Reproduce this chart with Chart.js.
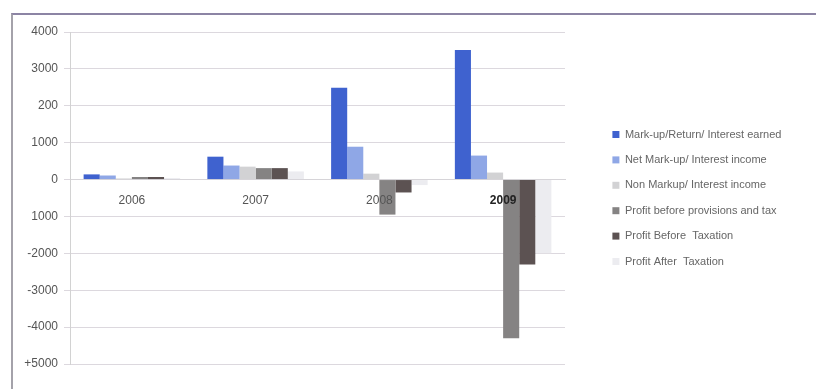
<!DOCTYPE html>
<html>
<head>
<meta charset="utf-8">
<script src="https://cdn.jsdelivr.net/npm/chart.js@4/dist/chart.umd.min.js"></script>
<style>
  html, body { margin: 0; padding: 0; background: #fff; }
  #wrap { position: relative; width: 816px; height: 389px; overflow: hidden; }
  #frame {
    position: absolute; left: 11px; top: 13px; right: -4px; bottom: -4px;
    border-left: 2px solid #a4a2aa;
    border-top: 2px solid #8c84a4;
    pointer-events: none;
  }
  #c { position: absolute; left: 0; top: 0; }
</style>
</head>
<body>
<div id="wrap">
  <div id="frame"></div>
  <canvas id="c" width="816" height="389"></canvas>
</div>
<script>
// categories
const years = ['2006', '2007', '2008', '2009'];

// series values
const markupEarned      = [140, 620, 2490, 3510];
const netMarkupIncome   = [110, 380, 890, 650];
const nonMarkupIncome   = [30, 350, 160, 190];
const profitBeforeProv  = [70, 310, -950, -4300];
const profitBeforeTax   = [70, 310, -350, -2300];
const profitAfterTax    = [40, 220, -150, -2000];

// tick labels exactly as printed on the original axis
const yTickValues = [4000, 3000, 2000, 1000, 0, -1000, -2000, -3000, -4000, -5000];
const yTickLabels = ['4000', '3000', '200', '1000', '0', '1000', '-2000', '-3000', '-4000', '+5000'];

const seriesNames = [
  'Mark-up/Return/ Interest earned',
  'Net Mark-up/ Interest income',
  'Non Markup/ Interest income',
  'Profit before provisions and tax',
  'Profit Before  Taxation',
  'Profit After  Taxation'
];
const seriesData = [markupEarned, netMarkupIncome, nonMarkupIncome, profitBeforeProv, profitBeforeTax, profitAfterTax];
const seriesColors = ['#3f62cf', '#8fa7e6', '#d2d2d4', '#858383', '#5c5252', '#ececf0'];

const FONT = "'Liberation Sans', Arial, sans-serif";

// fixed legend width + items pushed right, like the original layout
const legendShift = {
  id: 'legendShift',
  beforeInit(chart) {
    const lg = chart.legend;
    if (!lg) return;
    const fit = lg.fit;
    lg.fit = function () {
      fit.call(this);
      this.width = 251;
    };
    const draw = lg.draw;
    lg.draw = function () {
      const l = this.left;
      this.left = l + 33;
      draw.call(this);
      this.left = l;
    };
  }
};

new Chart(document.getElementById('c'), {
  type: 'bar',
  data: {
    labels: years,
    datasets: seriesData.map((d, i) => ({
      label: seriesNames[i],
      data: d,
      backgroundColor: seriesColors[i],
      borderWidth: 0
    }))
  },
  options: {
    responsive: false,
    animation: false,
    categoryPercentage: 0.78,
    barPercentage: 1,
    layout: { padding: { top: 32, bottom: 25, left: 0, right: 0 } },
    plugins: {
      tooltip: { enabled: false },
      legend: {
        position: 'right',
        align: 'center',
        labels: {
          boxWidth: 7,
          boxHeight: 7,
          padding: 14.4,
          color: '#666',
          font: { family: FONT, size: 11 }
        }
      }
    },
    scales: {
      x: {
        position: { y: 0 },
        grid: { display: false, drawTicks: false },
        border: { color: '#d6d4d8' },
        ticks: {
          z: 1,
          padding: 14,
          color: (ctx) => ctx.index === 3 ? '#222' : '#555',
          font: (ctx) => ({ family: FONT, size: 12, weight: ctx.index === 3 ? 'bold' : 'normal' })
        }
      },
      y: {
        min: -5000,
        max: 4000,
        afterFit(scale) { scale.width = 70; },
        grid: { color: '#dcd8de', tickLength: 6 },
        border: { color: '#d2d2d2' },
        ticks: {
          stepSize: 1000,
          padding: 6,
          color: '#555',
          font: { family: FONT, size: 12 },
          callback: (v) => {
            const i = yTickValues.indexOf(v);
            return i >= 0 ? yTickLabels[i] : '';
          }
        }
      }
    }
  },
  plugins: [legendShift]
});
</script>
</body>
</html>
